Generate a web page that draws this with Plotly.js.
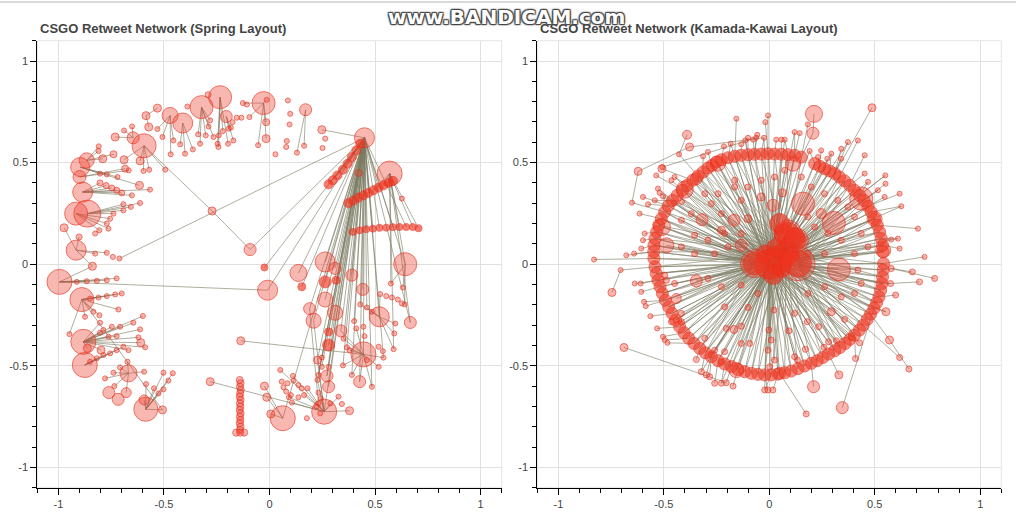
<!DOCTYPE html>
<html><head><meta charset="utf-8">
<script src="https://cdn.plot.ly/plotly-3.0.1.min.js"></script>
<style>html,body{margin:0;padding:0;background:#fff}#chart{width:1016px;height:520px}</style>
</head><body><div id="chart"></div>
<script>
// ---------- common ticks ----------
const tickVals = [-1, -0.5, 0, 0.5, 1];
const tickText = ['-1', '-0.5', '0', '0.5', '1'];
const titleLeft = 'CSGO Retweet Network (Spring Layout)';
const titleRight = 'CSGO Retweet Network (Kamada-Kawai Layout)';

// ---------- Spring layout nodes ----------
const springHubX = [0.450,-0.234,-0.322,-0.028,0.171,0.569,-0.594,-0.411,-0.471,-0.205,-0.646,-0.866,-0.897,-0.900,-0.885,-0.863,-0.916,-0.916,-0.973,-0.092,-0.272,-0.531,-0.585,-0.572,-0.731,-0.790,-0.739,-0.689,-0.684,-0.613,-0.616,0.248,-0.016,-0.016,-0.291,0.422,0.627,-0.902];
const springHubY = [0.622,0.822,0.773,0.793,0.760,0.446,0.583,0.695,0.732,0.727,0.622,0.511,0.478,0.429,0.355,0.249,0.249,0.069,0.179,0.072,0.262,0.768,0.731,0.675,0.626,0.519,0.541,0.514,0.470,0.508,0.388,0.662,0.618,0.699,0.834,0.449,0.323,0.134];
const springHubSize = [20,23,23,23,12,25,24,20,16,12,12,15,19,13,20,27,23,20,8,12,8,8,8,8,8,8,7,8,7,8,8,8,8,7,6,7,5,6];

const springLowX = [-0.995,-0.889,-0.882,-0.875,-0.586,-0.668,-0.761,-0.717,-0.679,-0.594,-0.507,-0.009,0.063,0.259,0.445,0.520,0.643,0.264,0.137,0.667,0.442,0.390,0.311,0.264,0.209,0.190,0.338,0.427,0.280,0.272,0.227,-0.136,-0.281,-0.013,-0.024,0.006,0.379,-0.839,-0.610,-0.798,-0.863,0.311];
const springLowY = [-0.087,-0.174,-0.382,-0.496,-0.714,-0.537,-0.632,-0.665,-0.632,-0.668,-0.717,-0.128,-0.758,-0.726,-0.444,-0.259,0.000,0.011,-0.043,-0.287,-0.124,-0.054,-0.239,-0.174,-0.278,-0.219,-0.328,-0.578,-0.603,-0.550,-0.472,-0.377,-0.578,-0.655,-0.600,-0.737,-0.721,-0.010,-0.386,-0.423,-0.414,-0.021];
const springLowSize = [25,24,25,25,24,17,12,12,10,10,8,20,25,25,25,20,23,20,17,12,12,12,15,15,15,12,12,12,12,12,8,8,8,8,8,8,8,8,8,8,8,12];

const springSolidX = [-0.024,0.153,0.264,0.316,0.280,0.280];
const springSolidY = [-0.016,-0.111,-0.087,-0.079,-0.333,-0.398];
const springSolidSize = [7,8,12,8,8,12];

const springChainAX = [0.430,0.411,0.390,0.370,0.348,0.322,0.300,0.280];
const springChainAY = [0.593,0.560,0.527,0.495,0.465,0.437,0.413,0.393];
const springChainBX = [0.374,0.398,0.422,0.445,0.469,0.493,0.517,0.540,0.564,0.585];
const springChainBY = [0.301,0.314,0.328,0.339,0.351,0.364,0.377,0.388,0.400,0.410];
const springChainCX = [0.395,0.427,0.458,0.490,0.521,0.553,0.585,0.616,0.648,0.679,0.706];
const springChainCY = [0.159,0.167,0.172,0.175,0.179,0.180,0.182,0.183,0.183,0.183,0.177];
const springChainDX = [-0.803,-0.774,-0.747,-0.724,-0.700];
const springChainDY = [0.400,0.387,0.375,0.364,0.351];

const springTopX = [-0.531,-0.507,-0.468,-0.455,-0.423,-0.400,-0.363,-0.338,-0.329,-0.302,
-0.242,-0.221,-0.196,-0.171,-0.175,-0.183,-0.133,-0.095,-0.126,-0.107,
-0.054,0.028,0.087,0.098,0.095,0.082,0.079,0.130,0.164,0.251,
0.264,-0.651,-0.689,-0.809,-0.810,-0.803,-0.771,-0.720,-0.667,-0.597,
-0.570,-0.494,-0.566,-0.613,-0.652,-0.657,-0.692,-0.692,-0.739,-0.755,
-0.771,-0.763,-0.806,-0.826,-0.826,-0.771,-0.742,-0.711,-0.246,-0.265,
-0.289,-0.281,-0.240,-0.013,-0.389,-0.193,-0.155];
const springTopY = [0.665,0.626,0.541,0.609,0.590,0.544,0.565,0.639,0.593,0.634,
0.577,0.655,0.593,0.609,0.699,0.672,0.721,0.724,0.793,0.786,
0.586,0.541,0.806,0.740,0.688,0.606,0.577,0.549,0.583,0.572,
0.618,0.678,0.658,0.580,0.557,0.446,0.442,0.429,0.462,0.459,
0.465,0.465,0.367,0.301,0.339,0.282,0.265,0.295,0.249,0.224,
0.200,0.175,0.167,0.151,0.052,0.056,0.036,0.028,0.593,0.626,
0.678,0.708,0.634,0.809,0.776,0.667,0.721];

const springLeftX = [-0.913,-0.866,-0.818,-0.771,-0.724,-0.850,-0.810,-0.771,-0.731,-0.700,
-0.716,-0.874,-0.803,-0.787,-0.747,-0.708,-0.645,-0.600,-0.613,-0.621,
-0.589,-0.668,-0.724,-0.763,-0.803,-0.850,-0.818,-0.787,-0.755,-0.724,
-0.692,-0.948,-0.779,-0.739,-0.708,-0.673,-0.594,-0.585,-0.502,-0.458,
-0.479,-0.502,-0.526,-0.547,-0.735,-0.806,-0.834];
const springLeftY = [-0.087,-0.084,-0.082,-0.079,-0.070,-0.169,-0.164,-0.157,-0.149,-0.144,
-0.223,-0.259,-0.288,-0.324,-0.308,-0.308,-0.288,-0.255,-0.321,-0.360,
-0.409,-0.423,-0.354,-0.357,-0.337,-0.480,-0.463,-0.447,-0.439,-0.423,
-0.406,-0.344,-0.562,-0.534,-0.508,-0.480,-0.529,-0.590,-0.534,-0.537,
-0.573,-0.616,-0.636,-0.611,-0.600,-0.251,-0.234];

const springColumnX = [-0.141,-0.137,-0.140,-0.136,-0.139,-0.141,-0.137,-0.140,-0.138,-0.141,-0.137,-0.140,-0.138,-0.141,-0.137,-0.140,-0.139,-0.158,-0.120];
const springColumnY = [-0.570,-0.586,-0.603,-0.619,-0.636,-0.652,-0.668,-0.685,-0.701,-0.717,-0.734,-0.750,-0.767,-0.783,-0.799,-0.816,-0.829,-0.829,-0.829];

const springMidX = [0.051,0.058,0.066,0.085,0.111,0.114,0.137,0.153,0.164,0.180,
0.177,0.101,0.079,0.092,0.106,0.137,0.232,0.240,0.224,0.288,
0.327,0.343,0.232,0.243,0.227,0.248,0.232,0.248,0.280];
const springMidY = [-0.521,-0.578,-0.606,-0.586,-0.550,-0.573,-0.595,-0.611,-0.644,-0.611,
-0.758,-0.644,-0.627,-0.655,-0.681,-0.655,-0.685,-0.734,-0.701,-0.685,
-0.652,-0.688,-0.632,-0.660,-0.570,-0.505,-0.545,-0.459,-0.505];

const springRightX = [0.575,0.632,0.524,0.553,0.580,0.608,0.627,0.640,0.430,0.461,
0.485,0.596,0.591,0.588,0.540,0.517,0.485,0.348,0.390,0.401,
0.411,0.445,0.367,0.450,0.351,0.379,0.517,0.537,0.461];
const springRightY = [-0.095,-0.115,-0.147,-0.157,-0.164,-0.174,-0.193,-0.198,-0.198,-0.213,
-0.234,-0.292,-0.341,-0.418,-0.460,-0.505,-0.603,-0.498,-0.545,-0.280,
-0.316,-0.308,-0.409,-0.354,-0.367,-0.423,-0.406,-0.428,-0.472];

const springEdges = [
'H0-A0','H0-A1','H0-A2','H0-A3','H0-A4','H0-A5','H0-A6','H0-A7',
'H0-B17','H0-B18','H0-S2','H0-B21','H0-B22','H0-B23','H0-B24','H0-B25','H0-B26','H0-B14','H0-B16','H0-B20','H0-B41',
'H0-S1','H0-S3','H0-S5','H0-S4','H0-B29','H0-B13','H0-B11','H0-H19','H0-H35','H0-H31','H0-C0','H0-C3','H0-C6',
'H0-K0','H0-K4','H0-B15','H0-Q16','H0-T57','H0-B30','H0-S0','H0-Q8','H0-B28','H0-M28',
'H0-K1','H0-K2','H0-K3','H0-K6','H0-C1','H0-C2','H0-C4','H0-C8','H0-B27','H0-Q17','H0-Q22','H0-Q19','H0-Q24','H0-M25','H0-M27','H0-B12',
'H0-Q18','H0-Q14','H0-Q9','H0-M24','H0-M26','H0-B19',
'H5-K9','H5-K5','H5-K7','H5-K8','H5-B16','H5-B19','H5-C10','H5-C7','H5-C9','H5-Q0','H5-Q13',
'H19-H20','H20-H6',
'H15-T46','H15-T48','H15-T47','H15-T45','H15-T43',
'H16-T49','H16-T50','H16-T51','H16-T52',
'H14-D0','H14-D1','H14-D2','H14-D3','H14-D4','H14-T44','H14-T42',
'H12-T35','H12-T36','H12-T37','H12-H30',
'H11-T33','H11-T34','H11-H25','H11-H26',
'H13-T38','H13-H28',
'H6-T40','H6-T41','H6-T39','H6-H29','H6-H27',
'H8-T0','H8-T1','H8-T2','H8-T3',
'H7-T4','H7-T5','H7-T6',
'H2-T7','H2-T8','H2-T9','H2-T59','H2-T60','H2-T61',
'H1-T10','H1-T58','H1-T62','H1-T11','H1-T12',
'H9-T13','H9-T15','H9-T65',
'H3-H33','H3-H32','H3-T20','H3-T63','H3-T17','H3-T18',
'H4-T28','H4-T27',
'H10-H24','H10-T31','H10-T32',
'H17-T54','H17-T55','H17-H37','H17-H18','H17-B37',
'H22-H23','H21-H22',
'B0-P0','B0-P1','B0-P2','B0-P3','B0-P4','B0-B11','B0-B37',
'B1-P5','B1-P6','B1-P7','B1-P8','B1-P9','B1-P10','B1-P31','B1-P11','B1-P45','B1-P46','B1-B10',
'B2-P12','B2-P13','B2-P14','B2-P15','B2-P16','B2-P17','B2-P18','B2-P19','B2-P20','B2-P21','B2-P22','B2-P23','B2-P24','B2-B38','B2-B39','B2-B40',
'B3-P25','B3-P26','B3-P27','B3-P28','B3-P29','B3-P30',
'B4-P37','B4-P38','B4-P39','B4-P40','B4-P41','B4-P42','B4-P43','B4-B9','B4-B10',
'B5-P32','B5-P33','B5-P34','B5-P35','B5-P36','B5-B8','B5-P44',
'B31-B14','B32-B13','B12-B33','B12-B35','B12-B34',
'B13-M0','B13-M4','B13-M8','B13-M9','B13-M20','B13-B30','B13-B24','B13-M13','B13-M14','B13-M24','B13-M19','B13-M23','B13-B36',
'B14-Q17','B14-Q18','B14-Q22','B14-Q14','B14-Q15','B14-Q16','B14-Q20','B14-B27','B14-B26','B14-Q28','B14-Q24','B14-Q25',
'B15-Q8','B15-Q9','B15-Q10','B15-Q11','B15-Q12','B15-Q2','B15-Q13',
'B16-Q0','B16-Q1','B16-Q7',
'B22-B29','B25-M16'
];

// ---------- Kamada-Kawai layout nodes ----------
const kkCenterX = [0.000,0.040,0.080,0.120,0.070,0.136,-0.070,0.088,0.049,0.128,0.020,0.030,-0.020,0.060,0.100];
const kkCenterY = [0.000,0.020,0.060,0.130,0.150,0.003,0.003,0.151,0.200,0.118,-0.050,0.080,0.050,-0.020,0.040];
const kkCenterSize = [30,28,24,20,20,27,23,23,20,20,20,18,18,18,18];

const kkBigX = [0.160,0.306,0.436,0.212,0.207,0.487,-0.390,-0.378,-0.622,-0.509,-0.401,-0.346,-0.509,-0.488,-0.319,0.017,-0.038,0.062,-0.167,-0.133,-0.101,-0.227,0.499,0.540,0.246,0.112,-0.243,0.330,-0.346,-0.441,-0.746,-0.689,-0.167,-0.156,0.049,0.210,0.330,0.346,0.570,0.553,0.294,-0.831];
const kkBigY = [0.298,0.203,0.323,0.740,0.645,0.770,0.637,0.577,0.457,0.470,0.367,0.421,0.183,0.093,0.219,0.290,0.331,0.351,0.216,0.093,0.224,0.167,0.224,0.069,0.249,0.495,0.495,-0.026,-0.082,-0.169,-0.139,-0.410,-0.321,-0.521,-0.537,-0.603,-0.545,-0.706,-0.373,-0.234,-0.234,0.023];
const kkBigSize = [23,23,23,17,12,8,9,8,8,8,17,12,17,15,12,12,8,8,12,12,8,8,15,15,10,15,15,23,12,10,8,8,8,15,12,12,8,12,8,8,8,5];

const kkRingX = [-0.272,-0.251,-0.227,-0.196,-0.164,-0.133,-0.101,-0.070,-0.038,-0.006,0.025,0.057,0.088,0.120,0.152,
0.215,0.239,0.262,0.286,0.310,0.333,0.357,0.381,0.404,0.428,0.449,0.468,0.483,0.499,0.512,0.523,0.531,0.537,0.540,
0.542,0.540,0.537,0.534,0.528,0.520,0.509,0.496,0.480,0.464,0.445,0.427,0.404,0.382,0.360,0.335,0.310,0.281,0.254,0.227,0.199,0.167,0.136,0.104,0.073,0.041,0.009,-0.022,-0.054,-0.085,-0.117,-0.149,-0.180,-0.212,-0.243,-0.275,-0.303,-0.330,-0.357,-0.382,-0.404,-0.425,-0.444,-0.461,-0.477,-0.493,-0.507,-0.518,-0.528,-0.536,-0.542,
-0.547,-0.548,-0.547,-0.542,-0.534,-0.524,-0.512,-0.496,-0.479,-0.458,-0.436,-0.412,-0.389,-0.363,-0.338,-0.314,-0.291];
const kkRingY = [0.486,0.503,0.514,0.524,0.531,0.536,0.539,0.541,0.542,0.544,0.542,0.541,0.539,0.536,0.527,
0.495,0.482,0.470,0.459,0.446,0.429,0.410,0.388,0.364,0.339,0.314,0.285,0.257,0.224,0.192,0.159,0.126,0.093,0.061,
0.003,-0.029,-0.062,-0.095,-0.128,-0.161,-0.190,-0.218,-0.246,-0.272,-0.300,-0.324,-0.349,-0.370,-0.390,-0.410,-0.426,-0.442,-0.459,-0.475,-0.488,-0.501,-0.514,-0.526,-0.534,-0.541,-0.545,-0.545,-0.542,-0.537,-0.529,-0.518,-0.504,-0.491,-0.475,-0.455,-0.436,-0.414,-0.390,-0.365,-0.337,-0.308,-0.275,-0.242,-0.210,-0.177,-0.144,-0.111,-0.079,-0.046,-0.013,
0.028,0.061,0.093,0.126,0.159,0.192,0.224,0.257,0.287,0.314,0.339,0.364,0.388,0.413,0.434,0.454,0.473];

const kkOuterX = [-0.156,-0.006,-0.019,0.120,0.144,0.183,0.073,0.033,0.057,-0.025,
-0.062,-0.057,-0.077,-0.114,-0.101,-0.133,-0.183,-0.215,-0.291,-0.314,
-0.428,-0.507,-0.536,-0.449,-0.464,-0.528,-0.520,-0.504,-0.599,-0.615,
-0.651,-0.575,-0.543,-0.452,-0.414,0.420,0.373,0.452,0.550,0.551,
0.618,0.626,0.515,0.547,0.705,0.610,0.578,0.736,0.618,0.452,
0.468,0.246,0.294,0.341,0.191,0.341,0.231,0.275,-0.678,-0.641,
-0.607,-0.599,-0.591];
const kkOuterY = [0.716,0.732,0.699,0.650,0.645,0.688,0.613,0.613,0.613,0.622,
0.622,0.637,0.613,0.609,0.622,0.590,0.593,0.580,0.552,0.531,
0.541,0.478,0.437,0.429,0.413,0.372,0.351,0.334,0.331,0.249,
0.303,0.295,0.314,0.301,0.306,0.609,0.601,0.536,0.437,0.396,
0.347,0.285,0.364,0.331,0.175,0.126,0.121,0.036,0.077,0.446,
0.405,0.560,0.544,0.519,0.557,0.568,0.527,0.519,0.044,0.052,
0.077,0.118,0.151];

const kkInnerX = [-0.306,-0.227,-0.212,-0.291,-0.354,-0.417,-0.370,-0.275,-0.133,-0.101,
-0.164,-0.038,0.025,0.073,0.152,0.199,0.262,0.325,0.373,0.404,
0.436,0.341,0.278,0.215,0.183,-0.133,-0.196,-0.259,-0.354,-0.417,
0.468,0.404,0.262,0.183,-0.164,-0.243];
const kkInnerY = [0.347,0.249,0.151,0.118,0.143,0.216,0.249,0.298,0.314,0.380,
0.413,0.413,0.429,0.462,0.429,0.380,0.347,0.314,0.282,0.233,
0.151,0.118,0.151,0.183,0.233,0.151,0.085,0.052,0.052,0.085,
0.085,0.052,0.052,0.052,0.380,0.347];

const kkLowerX = [-0.101,0.022,-0.002,0.009,-0.006,0.025,0.002,0.093,0.120,0.180,
0.234,0.171,0.133,0.259,0.281,0.318,0.357,0.409,0.428,0.389,
0.120,-0.022,-0.006,0.017,-0.259,-0.227,-0.204,-0.172,-0.133,-0.093,
-0.204,-0.133,-0.306,-0.259,-0.275,-0.212,-0.322,-0.299,-0.283,-0.346,
-0.227,-0.417,-0.441,-0.464,-0.417,-0.488,-0.449,-0.496,-0.291,-0.227,
-0.133,-0.054,-0.212,0.420,0.436,0.404,0.341,0.262,0.183,0.578,
0.575,0.599,0.678,0.712,0.784,0.618,0.662,0.175];
const kkLowerY = [-0.213,-0.226,-0.324,-0.373,-0.423,-0.472,-0.505,-0.328,-0.242,-0.283,
-0.308,-0.419,-0.472,-0.409,-0.382,-0.377,-0.272,-0.464,-0.387,-0.362,
-0.455,-0.619,-0.619,-0.619,-0.586,-0.586,-0.583,-0.600,-0.390,-0.390,
-0.316,-0.305,-0.365,-0.423,-0.447,-0.431,-0.529,-0.545,-0.554,-0.469,
-0.480,-0.242,-0.275,-0.283,-0.283,-0.079,-0.095,-0.054,-0.070,-0.111,
-0.103,-0.144,-0.210,-0.029,-0.095,-0.144,-0.161,-0.111,-0.144,-0.021,
-0.095,-0.152,-0.038,-0.087,-0.070,-0.459,-0.516,-0.737];

const kkWestX = [-0.705,-0.638,-0.610,-0.607,-0.594,-0.586,-0.564,-0.532,-0.504,-0.496,-0.483];
const kkWestY = [-0.029,-0.095,-0.095,-0.136,-0.185,-0.206,-0.256,-0.316,-0.357,-0.373,-0.387];

const kkHubTargets = ('R0 R1 R2 R3 R4 R5 R6 R7 R8 R9 R10 R11 R12 R13 R14 R15 R16 R17 R18 R19 R20 R21 R22 R23 R24 R25 R26 R27 R28 R29 R30 R31 R32 R33 R34 R35 R36 R37 R38 R39 R40 R41 R42 R43 R44 R45 R46 R47 R48 R49 R50 R51 R52 R53 R54 R55 R56 R57 R58 R59 R60 R61 R62 R63 R64 R65 R66 R67 R68 R69 R70 R71 R72 R73 R74 R75 R76 R77 R78 R79 R80 R81 R82 R83 R84 R85 R86 R87 R88 R89 R90 R91 R92 R93 R94 R95 R96 R97 R98 R99 R100 R101 ' +
 'I0 I1 I2 I3 I4 I5 I6 I7 I8 I9 I10 I11 I12 I13 I14 I15 I16 I17 I18 I19 I20 I21 I22 I23 I24 I25 I26 I27 I28 I29 I30 I31 I32 I33 I34 I35 ' +
 'L0 L1 L2 L3 L4 L5 L6 L7 L8 L9 L10 L11 L12 L13 L14 L15 L16 L18 L19 L20 L28 L29 L30 L31 L32 L33 L34 L35 L41 L44 L46 L48 L49 L50 L51 L52 L53 L54 L55 L56 L57 L58 ' +
 'G0 G1 G2 G10 G11 G12 G13 G14 G15 G16 G17 G18 G19 G20 G21 G22 G23 G24 G25 G26 G27 G28 G29 G32 G33 G34 G39 G40 ' +
 'O3 O6 O9 O13 O16 O23 O27 O33 O34 O36 O38 O41 O42 O45 O50 O52 O54 L21 L25 L36 L60').split(' ');
const kkSecondHubTargets = 'R1 R3 R5 R7 R9 R11 R13 R15 R17 R19 R21 R23 R25 R27 R29 R31 R33 R35 R37 R39 R41 R43 R45 R47 R49 R51 R53 R55 R57 R59 R61 R63 R65 R67 R69 R71 R73 R75 R77 R79 R81 R83 R85 R87 R89 R91 R93 R95 R97 R99 R101'.split(' ');
const kkThirdHubTargets = 'R0 R2 R4 R6 R8 R10 R12 R14 R16 R18 R20 R22 R24 R26 R28 R30 R32 R34 R36 R38 R40 R42 R44 R46 R48 R50 R52 R54 R56 R58 R60 R62 R64 R66 R68 R70 R72 R74 R76 R78 R80 R82 R84 R86 R88 R90 R92 R94 R96 R98 R100'.split(' ');
const kkEastHubTargets = 'R20 R22 R24 R26 R28 R30 R32 R34 R36 R38 R40 R42 R44 R46 R48 R50 R21 R25 R29 R33 R37 R41 R45 R49'.split(' ');
const kkWestHubTargets = 'R70 R72 R74 R76 R78 R80 R82 R84 R86 R88 R90 R92 R94 R96 R98 R100 R71 R75 R79 R83 R87 R91 R95 R99'.split(' ');

const kkEdges = [
'O0-R4','O1-R9','O2-R9','O3-R13','O4-R13','O5-R14','O6-R12','O7-R10','O8-R11','O9-R8','O10-R7','O11-R7','O12-R7','O13-R6','O14-R6','O15-R5','O16-R3','O17-R2',
'O18-R0','O19-R100','O20-R99','O22-R96','O23-R97','O24-R96','O25-R94','O26-R94','O27-R93','O28-R93','O29-R91','O30-R92','O31-R93','O32-R94',
'O35-R20','O36-R19','O37-R22','O38-R24','O39-R25','O40-R26','O41-R27','O42-R25','O43-R26','O44-R29','O45-R31','O46-R31','O47-R34','O48-R32','O49-R22','O50-R24',
'O51-R16','O52-R18','O53-R19','O54-R15','O55-R19','O56-R16','O57-R17',
'O58-R86','O59-R86','O60-R87','O61-R88','O62-R89','G41-R85','G9-R98','G30-W0',
'G3-G4','G4-R14','G5-R19','G6-O20','G7-O9','G8-G7','G8-O30','O21-O10','G31-L26',
'L21-R60','L22-R61','L23-R59','L24-R68','L25-R67','L26-R66','L27-R65','L36-R70','L37-R69','L38-R69','L39-R71','L40-R67',
'G35-R54','G36-R51','G37-R41','L67-G34','L65-R44','L66-G38','G38-R42','G39-R41','L17-R46',
'L59-R35','L60-R37','L61-R39','L62-L59','L63-L60','L64-L59',
'W0-R84','W1-R82','W2-R82','W3-R81','W4-R79','W5-R79','W6-R77','W7-R75','W8-R74','W9-R73','W10-R72'
];

// ---------- building ----------
const NODE_FILL = 'rgba(240,62,45,0.52)';
const NODE_LINE = 'rgb(232,48,30)';
const SOLID_FILL = 'rgba(240,50,28,0.9)';
const RING_FILL = 'rgba(240,52,30,0.78)';
const EDGE_COLOR = 'rgba(125,125,100,0.62)';

function panel(groups, edges, xa, ya) {
  const traces = [];
  const ex = [], ey = [];
  function node(tok) {
    const m = tok.match(/^([A-Z]+)(\d+)$/);
    const g = groups[m[1]];
    const i = +m[2];
    return [g.x[i], g.y[i]];
  }
  edges.forEach(e => {
    const [a, b] = e.split('-');
    const p = node(a), q = node(b);
    if (p[0] === undefined || q[0] === undefined) return;
    ex.push(p[0], q[0], null); ey.push(p[1], q[1], null);
  });
  traces.push({type: 'scatter', mode: 'lines', x: ex, y: ey, xaxis: xa, yaxis: ya,
    line: {color: EDGE_COLOR, width: 1}, hoverinfo: 'skip', showlegend: false});
  Object.keys(groups).forEach(k => {
    const g = groups[k];
    const ns = g.x.map((v, i) => Array.isArray(g.s) ? (g.s[i] || 5) : g.s);
    traces.push({type: 'scatter', mode: 'markers', x: g.x, y: g.y, xaxis: xa, yaxis: ya,
      marker: {size: ns, color: g.fill || NODE_FILL, line: {color: NODE_LINE, width: 1}},
      hoverinfo: 'skip', showlegend: false});
  });
  return traces;
}

const springGroups = {
  H: {x: springHubX, y: springHubY, s: springHubSize},
  B: {x: springLowX, y: springLowY, s: springLowSize},
  T: {x: springTopX, y: springTopY, s: 5},
  P: {x: springLeftX, y: springLeftY, s: 5},
  V: {x: springColumnX, y: springColumnY, s: 7},
  M: {x: springMidX, y: springMidY, s: 5},
  Q: {x: springRightX, y: springRightY, s: 5},
  D: {x: springChainDX, y: springChainDY, s: 6},
  S: {x: springSolidX, y: springSolidY, s: springSolidSize, fill: SOLID_FILL},
  A: {x: springChainAX, y: springChainAY, s: 9, fill: SOLID_FILL},
  K: {x: springChainBX, y: springChainBY, s: 9, fill: SOLID_FILL},
  C: {x: springChainCX, y: springChainCY, s: 7, fill: SOLID_FILL}
};

const kkGroups = {
  G: {x: kkBigX, y: kkBigY, s: kkBigSize},
  O: {x: kkOuterX, y: kkOuterY, s: 5},
  I: {x: kkInnerX, y: kkInnerY, s: 6},
  L: {x: kkLowerX, y: kkLowerY, s: 6},
  W: {x: kkWestX, y: kkWestY, s: 5},
  R: {x: kkRingX, y: kkRingY, s: 12, fill: RING_FILL},
  Z: {x: kkCenterX, y: kkCenterY, s: kkCenterSize, fill: SOLID_FILL}
};
const kkAllEdges = kkHubTargets.map(t => 'Z0-' + t)
  .concat(kkSecondHubTargets.map(t => 'Z1-' + t))
  .concat(kkThirdHubTargets.map(t => 'Z2-' + t))
  .concat(kkEastHubTargets.map(t => 'Z5-' + t))
  .concat(kkWestHubTargets.map(t => 'Z6-' + t))
  .concat(kkEdges);

const data = panel(springGroups, springEdges, 'x', 'y').concat(panel(kkGroups, kkAllEdges, 'x2', 'y2'));

// pink rims on the larger centre nodes of the Kamada-Kawai hub
data.push({type: 'scatter', mode: 'markers', x: [kkCenterX[5], kkCenterX[6], kkCenterX[7], kkCenterX[9]],
  y: [kkCenterY[5], kkCenterY[6], kkCenterY[7], kkCenterY[9]], xaxis: 'x2', yaxis: 'y2',
  marker: {size: [34, 28, 27, 24], color: 'rgba(240,62,45,0.35)', line: {color: NODE_LINE, width: 1}},
  hoverinfo: 'skip', showlegend: false});

const W = 1016, H = 520;
const yDom = [1 - 487.7 / H, 1 - 40.7 / H];
function axis(domain, anchor) {
  return {domain: domain, anchor: anchor, range: [-1.1, 1.1], fixedrange: true,
    showline: true, linecolor: '#000', linewidth: 1, mirror: false,
    ticks: 'outside', ticklen: 6, tickwidth: 1, tickcolor: '#000',
    tickmode: 'array', tickvals: tickVals, ticktext: tickText,
    showgrid: true, gridcolor: '#e0e0dc', gridwidth: 1, zeroline: false,
    tickfont: {family: 'Liberation Sans, Arial, sans-serif', size: 11, color: '#444'},
    minor: {tickmode: 'linear', tick0: 0, dtick: 0.1, ticks: 'outside', ticklen: 4, tickcolor: '#000', tickwidth: 1, showgrid: false}};
}
const titleFont = {family: 'Liberation Sans, Arial, sans-serif', size: 13, color: '#444'};
const layout = {
  width: W, height: H, margin: {l: 0, r: 0, t: 0, b: 0},
  paper_bgcolor: '#ffffff', plot_bgcolor: '#ffffff', showlegend: false,
  xaxis: axis([37.3 / W, 501.7 / W], 'y'),
  yaxis: axis(yDom, 'x'),
  xaxis2: axis([537.3 / W, 1001.3 / W], 'y2'),
  yaxis2: axis(yDom, 'x2'),
  shapes: [
    {type: 'rect', xref: 'x domain', yref: 'y domain', x0: 0, x1: 1, y0: 0, y1: 1, line: {color: '#e5e5e5', width: 1}, layer: 'below'},
    {type: 'rect', xref: 'x2 domain', yref: 'y2 domain', x0: 0, x1: 1, y0: 0, y1: 1, line: {color: '#e5e5e5', width: 1}, layer: 'below'},
    {type: 'line', xref: 'paper', yref: 'paper', x0: 0, x1: 1, y0: 1 - 2 / H, y1: 1 - 2 / H, line: {color: '#b4b4b4', width: 1}}
  ],
  annotations: [
    {xref: 'paper', yref: 'paper', x: 37.5 / W, y: 1 - 28 / H, xanchor: 'left', yanchor: 'middle', showarrow: false,
     text: '<b>' + titleLeft + '</b>', font: titleFont},
    {xref: 'paper', yref: 'paper', x: 538 / W, y: 1 - 28 / H, xanchor: 'left', yanchor: 'middle', showarrow: false,
     text: '<b>' + titleRight + '</b>', font: titleFont},
    {xref: 'paper', yref: 'paper', x: 506 / W, y: 1 - 17 / H, xanchor: 'center', yanchor: 'middle', showarrow: false,
     text: '<b>www.BANDICAM.com</b>',
     font: {family: 'DejaVu Sans, sans-serif', size: 20, color: '#ffffff',
            shadow: '1px 1px 1px #444, -1px -1px 1px #444, 1px -1px 1px #444, -1px 1px 1px #444, 0 0 3px #666'}}
  ]
};
Plotly.newPlot('chart', data, layout, {staticPlot: true, displayModeBar: false});
</script></body></html>
